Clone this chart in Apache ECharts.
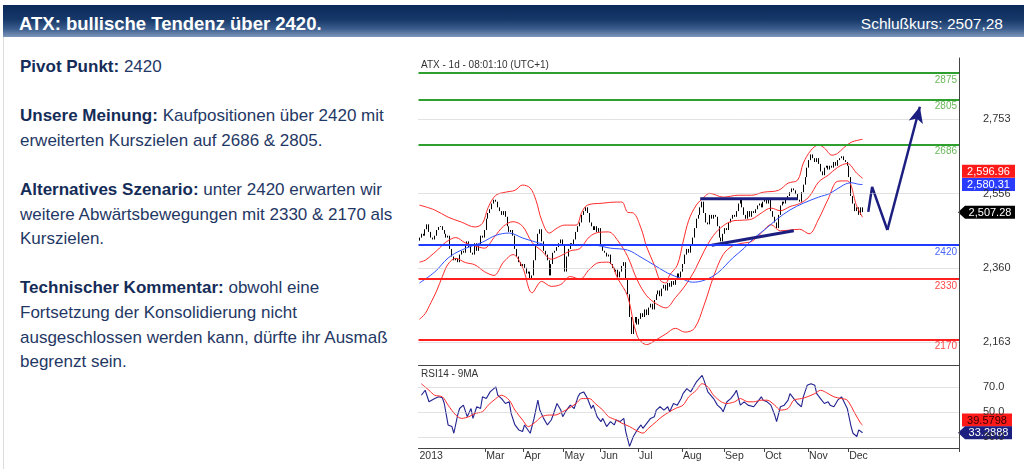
<!DOCTYPE html>
<html><head><meta charset="utf-8">
<script src="https://cdn.jsdelivr.net/npm/echarts@6/dist/echarts.min.js"></script>
<style>
html,body{margin:0;padding:0;background:#fff;}
body{width:1024px;height:469px;position:relative;overflow:hidden;font-family:"Liberation Sans",Arial,Helvetica,sans-serif;}
#hdr{position:absolute;left:3px;top:5px;width:1021px;height:32px;background:linear-gradient(to bottom,#0b2a5a 0%,#163869 45%,#3c5e8e 75%,#7d96ba 100%);}
#hdr .t{position:absolute;left:16px;top:2px;line-height:34px;font-size:18.5px;font-weight:bold;color:#fff;white-space:nowrap;}
#hdr .s{position:absolute;right:21px;top:2px;line-height:34px;font-size:15.5px;color:#fff;white-space:nowrap;}
#lb{position:absolute;left:3px;top:37px;width:1px;height:432px;background:#dcdcdc;}
#txt{position:absolute;left:20px;top:55px;font-size:17px;line-height:24.6px;color:#1f3865;white-space:nowrap;}
#txt b{color:#142c57;}
#chart{position:absolute;left:400px;top:40px;width:624px;height:429px;}
</style></head><body>
<div id="hdr"><div class="t">ATX: bullische Tendenz über 2420.</div><div class="s">Schlußkurs: 2507,28</div></div>
<div id="lb"></div>
<div id="txt"><b>Pivot Punkt:</b> 2420<br><br><b>Unsere Meinung:</b> Kaufpositionen über 2420 mit<br>erweiterten Kurszielen auf 2686 &amp; 2805.<br><br><b>Alternatives Szenario:</b> unter 2420 erwarten wir<br>weitere Abwärtsbewegungen mit 2330 &amp; 2170 als<br>Kurszielen.<br><br><b>Technischer Kommentar:</b> obwohl eine<br>Fortsetzung der Konsolidierung nicht<br>ausgeschlossen werden kann, dürfte ihr Ausmaß<br>begrenzt sein.</div>
<div id="chart"></div>
<script>
// ---------------- data ----------------
const firstDay = '2013-01-11';
const lastDay = '2014-02-26';
const holidays = ['2013-03-29','2013-04-01','2013-05-01','2013-05-09','2013-05-20','2013-05-30',
  '2013-12-24','2013-12-25','2013-12-26','2013-12-31','2014-01-01'];
const monthNames = ['Jan','Feb','Mar','Apr','May','Jun','Jul','Aug','Sep','Oct','Nov','Dec'];

const firstOpen = 2432;
const closesJan = [2440,2450,2445,2462,2475,2455,2440,2435,2445,2460,2468,2470,2460,2450,2440];
const closesFeb = [2445,2410,2390,2380,2385,2375,2395,2405,2400,2420,2430,2415,2400,2395,2425,2405,2420,2445,2440,2460];
const closesMar = [2490,2505,2515,2530,2540,2535,2520,2510,2500,2510,2495,2470,2455,2460,2445,2410,2390,2375,2365,2370];
const closesApr = [2360,2345,2350,2330,2340,2380,2420,2450,2462,2430,2405,2395,2380,2340,2370,2400,2405,2415,2425,2435,2420];
const closesMay = [2350,2390,2410,2425,2420,2435,2455,2470,2480,2500,2510,2520,2505,2480,2470,2460,2470,2455,2465];
const closesJun = [2420,2405,2400,2390,2395,2370,2360,2350,2355,2335,2350,2365,2375,2330,2290,2230,2185,2215,2230,2210];
const closesJul = [2225,2240,2230,2250,2235,2255,2265,2250,2275,2290,2300,2285,2305,2315,2300,2320,2310,2325,2315,2330,2345,2335,2350];
const closesAug = [2370,2395,2410,2400,2420,2440,2465,2490,2500,2520,2535,2505,2480,2475,2500,2490,2500,2495,2470,2440,2430,2450];
const closesSep = [2465,2460,2480,2490,2500,2495,2510,2530,2540,2520,2500,2490,2510,2495,2510,2505,2515,2525,2530,2520,2535];
const closesOct = [2540,2530,2540,2510,2495,2480,2465,2500,2525,2535,2530,2545,2550,2560,2570,2565,2555,2540,2535,2560,2580,2600,2625];
const closesNov = [2645,2660,2650,2640,2650,2635,2615,2605,2625,2630,2620,2630,2625,2640,2630,2645,2650,2655,2645,2640,2630];
const closesDec = [2600,2550,2530,2510,2520,2500,2520,2507.28];

// [day index, value]
const bbUpper = [[0,2526],[8,2513],[15,2494],[22,2481],[29,2468],[33,2478],[36,2520],[40,2552],[45,2560],[50,2565],[54,2579],[58,2571],[61,2539],[64,2486],[68,2452],[72,2465],[76,2473],[82,2473],[85,2507],[88,2526],[96,2531],[103,2534],[106,2534],[109,2507],[112,2505],[116,2465],[119,2415],[123,2367],[126,2327],[129,2320],[131,2341],[135,2367],[138,2428],[141,2486],[145,2526],[149,2547],[152,2557],[159,2547],[167,2552],[174,2552],[180,2560],[188,2565],[193,2584],[198,2592],[201,2637],[205,2671],[209,2685],[212,2677],[216,2658],[219,2663],[222,2677],[226,2692],[230,2698],[232,2700]];
const bbMiddle = [[0,2375],[3,2380],[6,2392],[9,2405],[12,2420],[15,2432],[19,2440],[24,2426],[29,2418],[34,2412],[39,2440],[44,2470],[49,2482],[54,2470],[59,2427],[64,2405],[69,2383],[74,2392],[79,2405],[84,2411],[89,2442],[94,2454],[99,2455],[104,2431],[109,2390],[114,2328],[119,2286],[124,2265],[129,2254],[134,2281],[139,2312],[144,2352],[149,2404],[154,2446],[159,2471],[164,2484],[169,2486],[174,2489],[179,2505],[184,2518],[189,2511],[194,2522],[199,2530],[204,2548],[209,2587],[214,2605],[219,2626],[224,2636],[229,2610],[232,2596.96]];
const bbLower = [[0,2224],[3,2239],[6,2268],[9,2299],[12,2337],[15,2370],[19,2385],[24,2374],[29,2368],[34,2350],[39,2340],[44,2375],[49,2395],[54,2361],[59,2294],[64,2324],[69,2311],[74,2316],[79,2337],[84,2330],[89,2356],[94,2374],[99,2375],[104,2330],[109,2285],[114,2180],[119,2157],[124,2170],[129,2185],[134,2200],[139,2190],[144,2200],[149,2261],[154,2337],[159,2395],[164,2418],[169,2425],[174,2430],[179,2452],[184,2474],[189,2458],[194,2460],[199,2462],[204,2450],[209,2489],[214,2542],[219,2589],[224,2590],[229,2523],[232,2494]];
const ma50 = [[0,2320],[8,2349],[15,2386],[22,2407],[33,2428],[40,2446],[47,2452],[54,2439],[61,2428],[68,2420],[81,2420],[91,2420],[100,2412],[109,2407],[116,2388],[123,2367],[130,2346],[137,2332],[143,2322],[149,2327],[156,2346],[164,2386],[170,2412],[175,2438],[182,2466],[187,2488],[194,2513],[201,2531],[209,2547],[215,2557],[222,2579],[226,2585],[230,2581],[232,2580.31]];

const rsi14 = [[1,63.6],[3,67.6],[5,58.3],[6,56.9],[8,60.9],[10,62.3],[12,61.5],[13,56.9],[15,39.6],[17,38.3],[18,32.9],[20,47.6],[21,52.9],[23,55.6],[25,46.3],[27,52.9],[28,44.9],[30,54.3],[32,52.9],[33,62.3],[35,60.9],[37,66.3],[40,70.3],[41,63.6],[43,60.9],[45,56.9],[47,58.3],[48,48.9],[50,39.6],[52,35.6],[54,34.3],[55,39.6],[58,32.9],[60,44.9],[62,59.6],[63,51.6],[65,44.9],[67,39.6],[69,43.6],[70,47.6],[72,56.9],[74,51.6],[75,46.3],[77,51.6],[79,55.6],[81,52.9],[83,62.3],[84,64.9],[86,66.3],[88,60.9],[90,52.9],[91,55.6],[93,46.3],[95,42.3],[96,44.9],[98,38.3],[100,42.3],[102,39.6],[103,43.6],[105,42.3],[107,44.9],[108,34.3],[110,22.3],[112,30.3],[114,35.6],[116,39.6],[117,36.9],[119,40.9],[121,44.9],[123,46.3],[124,51.6],[126,54.3],[128,51.6],[130,54.3],[131,50.3],[133,56.9],[135,55.6],[137,60.9],[138,64.9],[140,68.9],[142,66.3],[144,71.6],[145,74.3],[148,79.6],[149,75.6],[151,66.3],[152,66.3],[154,60.9],[156,55.6],[158,52.9],[159,50.3],[161,58.3],[163,60.9],[165,64.9],[166,67.6],[168,55.6],[170,58.3],[172,55.6],[173,56.9],[175,54.3],[177,58.3],[179,62.3],[180,59.6],[182,58.3],[184,55.6],[186,47.6],[187,42.3],[189,54.3],[191,55.6],[193,59.6],[194,64.9],[196,60.9],[198,56.9],[200,54.3],[201,62.3],[203,71.6],[205,72.9],[207,71.6],[208,64.9],[210,60.9],[212,56.9],[214,58.3],[215,55.6],[217,54.3],[219,59.6],[221,62.3],[222,60.9],[224,52.9],[226,38.3],[227,32.9],[229,30.3],[230,35.6],[232,33.2888]];
const rsiMA9 = [[1,72.9],[5,67.6],[8,63.6],[12,62.3],[15,55.6],[19,47.6],[22,44.9],[26,46.3],[29,48.9],[33,50.3],[36,55.6],[40,60.9],[43,63.6],[47,59.6],[50,51.6],[54,43.6],[57,38.3],[61,42.3],[64,46.3],[68,47.6],[71,47.6],[75,50.3],[78,52.9],[82,56.9],[85,60.9],[89,60.9],[92,56.9],[96,51.6],[99,46.3],[103,43.6],[106,41.0],[110,38.3],[113,35.6],[117,33.0],[120,37.0],[124,42.3],[127,46.3],[131,50.3],[134,52.9],[138,55.6],[141,62.3],[145,67.6],[148,72.9],[151,70.3],[154,63.6],[158,58.3],[161,56.9],[165,58.3],[168,60.9],[172,58.3],[175,58.3],[179,59.6],[182,59.6],[186,55.6],[189,51.6],[193,52.9],[196,59.6],[200,60.9],[203,62.3],[207,64.9],[210,67.6],[214,64.9],[217,62.3],[221,60.9],[224,59.6],[228,49.0],[231,41.0],[232,39.5798]];

const greenLevels = [2875, 2805, 2686];
const blueLevels = [2420];
const redLevels = [2330, 2170];
const priceTicks = [2163, 2360, 2556, 2753];
const rsiTicks = [30, 50, 70];

const resistanceLine = [[147,2543],[198,2543]];
const supportLine = [[153,2420],[196,2458]];
const projectionPath = [[235,2508],[237,2574],[245,2460],[262,2786]];

const lastClose = 2507.28, lastMiddle = 2596.96, lastMA = 2580.31;
const lastRsi = 33.2888, lastRsiMA = 39.5798;

// ---------------- build ----------------
function tradingDays(start, end, off) {
  const out = [];
  const d = new Date(start + 'T00:00:00Z'), e = new Date(end + 'T00:00:00Z');
  while (d <= e) {
    const w = d.getUTCDay(), s = d.toISOString().slice(0, 10);
    if (w !== 0 && w !== 6 && off.indexOf(s) < 0) out.push(s);
    d.setUTCDate(d.getUTCDate() + 1);
  }
  return out;
}
const days = tradingDays(firstDay, lastDay, holidays);
const closes = [].concat(closesJan, closesFeb, closesMar, closesApr, closesMay, closesJun,
  closesJul, closesAug, closesSep, closesOct, closesNov, closesDec);
const candles = closes.map((c, i) => {
  const o = i ? closes[i - 1] : firstOpen;
  return [o, c, Math.min(o, c), Math.max(o, c)];
});

function monthLabel(i) {
  if (i === 0) return days[0].slice(0, 4);
  const y = days[i].slice(0, 4), m = +days[i].slice(5, 7);
  const pm = +days[i - 1].slice(5, 7);
  if (m !== pm && y === '2013' && m >= 3) return monthNames[m - 1];
  return '';
}
const FONT = '"Liberation Sans", Arial, sans-serif';
const fmtPrice = v => Math.round(v).toString().replace(/\B(?=(\d{3})+(?!\d))/g, ',');

const chart = echarts.init(document.getElementById('chart'));
const option = {
  animation: false,
  textStyle: { fontFamily: FONT },
  title: [
    { text: 'ATX - 1d - 08:01:10 (UTC+1)', left: 21, top: 20, padding: 0,
      textStyle: { fontSize: 10, fontWeight: 'normal', color: '#333', fontFamily: FONT } },
    { text: 'RSI14 - 9MA', left: 21, top: 329, padding: 0,
      textStyle: { fontSize: 10, fontWeight: 'normal', color: '#333', fontFamily: FONT } }
  ],
  grid: [
    { left: 18.5, right: 65, top: 18, height: 307 },
    { left: 18.5, right: 65, top: 325, height: 83 }
  ],
  xAxis: [
    { type: 'category', gridIndex: 0, data: days, boundaryGap: true,
      axisLine: { show: true, lineStyle: { color: '#444', width: 1 } },
      axisTick: { show: false }, axisLabel: { show: false }, splitLine: { show: false } },
    { type: 'category', gridIndex: 1, data: days, boundaryGap: true,
      axisLine: { show: true, lineStyle: { color: '#444', width: 1 } },
      axisTick: { show: true, length: 4, lineStyle: { color: '#444' },
        interval: (i) => i > 0 && monthLabel(i) !== '' },
      axisLabel: { interval: (i) => monthLabel(i) !== '', formatter: (v, i) => monthLabel(i),
        align: 'left', margin: 3, fontSize: 10.5, color: '#333', fontFamily: FONT },
      splitLine: { show: false } }
  ],
  yAxis: [
    { type: 'value', gridIndex: 0, position: 'right', min: 2103, max: 2915,
      axisLine: { show: true, lineStyle: { color: '#444' } }, axisTick: { show: false },
      splitLine: { show: false },
      axisLabel: { customValues: priceTicks, formatter: v => fmtPrice(v), margin: 24,
        fontSize: 11, color: '#333', fontFamily: FONT } },
    { type: 'value', gridIndex: 1, position: 'right', min: 21, max: 88,
      axisLine: { show: true, lineStyle: { color: '#444' } }, axisTick: { show: false },
      splitLine: { show: false },
      axisLabel: { customValues: rsiTicks, formatter: v => v.toFixed(1), margin: 24,
        fontSize: 11, color: '#333', fontFamily: FONT } }
  ],
  series: [
    { name: 'ATX', type: 'candlestick', xAxisIndex: 0, yAxisIndex: 0, data: candles,
      barWidth: 1.3,
      itemStyle: { color: '#4a4a4a', color0: '#000', borderColor: '#000', borderColor0: '#000', borderWidth: 1 },
      markLine: {
        silent: true, symbol: 'none', animation: false,
        label: { show: false },
        data: [].concat(
          priceTicks.map(v => ({ yAxis: v, lineStyle: { type: 'dotted', color: '#c4c4c4', width: 1 }, label: { show: false } })),
          greenLevels.map(v => ({ yAxis: v, lineStyle: { type: 'solid', color: '#2e9e2e', width: 2 },
            label: { show: true, position: 'insideEndBottom', formatter: String(v), color: '#69b85a', fontSize: 10, distance: 2, fontFamily: FONT } })),
          blueLevels.map(v => ({ yAxis: v, lineStyle: { type: 'solid', color: '#1f3cff', width: 2 },
            label: { show: true, position: 'insideEndBottom', formatter: String(v), color: '#4a66ff', fontSize: 10, distance: 2, fontFamily: FONT } })),
          redLevels.map(v => ({ yAxis: v, lineStyle: { type: 'solid', color: '#ff1f1f', width: 2 },
            label: { show: true, position: 'insideEndBottom', formatter: String(v), color: '#ff4848', fontSize: 10, distance: 2, fontFamily: FONT } }))
        )
      }
    },
    { name: 'BB upper', type: 'line', data: bbUpper, smooth: 0.35, showSymbol: false, lineStyle: { color: '#ff2a2a', width: 1 }, z: 3 },
    { name: 'BB middle', type: 'line', data: bbMiddle, smooth: 0.35, showSymbol: false, lineStyle: { color: '#ff2a2a', width: 1 }, z: 3 },
    { name: 'BB lower', type: 'line', data: bbLower, smooth: 0.35, showSymbol: false, lineStyle: { color: '#ff2a2a', width: 1 }, z: 3 },
    { name: 'MA50', type: 'line', data: ma50, smooth: 0.35, showSymbol: false, lineStyle: { color: '#3050ff', width: 1 }, z: 3 },
    { name: 'Resistance', type: 'line', data: resistanceLine, showSymbol: false, lineStyle: { color: '#1c1f80', width: 3 }, z: 4 },
    { name: 'Support', type: 'line', data: supportLine, showSymbol: false, lineStyle: { color: '#1c1f80', width: 3 }, z: 4 },
    { name: 'Projection', type: 'line', data: projectionPath.slice(0, 3), showSymbol: false,
      lineStyle: { color: '#1c1f80', width: 2.5 }, z: 4,
      markLine: { silent: true, symbol: ['none', 'arrow'], symbolSize: [11, 16], animation: false,
        label: { show: false },
        lineStyle: { color: '#1c1f80', width: 2.5, type: 'solid' },
        data: [[{ coord: projectionPath[2] }, { coord: projectionPath[3] }]] } },
    { name: 'RSI14', type: 'line', xAxisIndex: 1, yAxisIndex: 1, data: rsi14, showSymbol: false,
      lineStyle: { color: '#22238f', width: 1.1 }, z: 3,
      markLine: { silent: true, symbol: 'none', animation: false, label: { show: false },
        data: rsiTicks.map(v => ({ yAxis: v, lineStyle: { type: 'dotted', color: '#c4c4c4', width: 1 } })) } },
    { name: 'RSI MA9', type: 'line', xAxisIndex: 1, yAxisIndex: 1, data: rsiMA9, smooth: 0.3, showSymbol: false,
      lineStyle: { color: '#ff2a2a', width: 1 }, z: 3 }
  ]
};
chart.setOption(option);

// value tags on the right axis, positioned from the data values
const gr = chart.getWidth() - 65;
function tag(axisIdx, value, text, bg, fg, dy, arrow, w) {
  const y = chart.convertToPixel({ yAxisIndex: axisIdx }, value) + dy;
  const h = 13, x0 = gr + 3, x1 = gr + 3 + w;
  const shape = arrow
    ? { type: 'polygon', shape: { points: [[gr - 1, y], [gr + 6, y - h / 2], [x1, y - h / 2], [x1, y + h / 2], [gr + 6, y + h / 2]] }, style: { fill: bg } }
    : { type: 'rect', shape: { x: x0, y: y - h / 2, width: w, height: h }, style: { fill: bg } };
  return { type: 'group', z: 100, children: [shape,
    { type: 'text', style: { text: text, x: arrow ? (gr + 6 + x1) / 2 : (x0 + x1) / 2, y: y + 0.5,
      fill: fg, font: '11px ' + FONT, align: 'center', verticalAlign: 'middle',
      textAlign: 'center', textVerticalAlign: 'middle' } }] };
}
chart.setOption({ graphic: [
  tag(0, lastMiddle, lastMiddle.toFixed(2).replace(/\B(?=(\d{3})+(?!\d))/, ','), '#ff1a1a', '#fff', -7, false, 53),
  tag(0, lastMA, lastMA.toFixed(2).replace(/\B(?=(\d{3})+(?!\d))/, ','), '#2a3cff', '#fff', 0, false, 53),
  tag(0, lastClose, lastClose.toFixed(2).replace(/\B(?=(\d{3})+(?!\d))/, ','), '#000', '#fff', 0, true, 53),
  tag(1, lastRsiMA, lastRsiMA.toFixed(4), '#ff1a1a', '#300', -5, false, 50),
  tag(1, lastRsi, lastRsi.toFixed(4), '#1c1f80', '#fff', 0, true, 50)
] });
</script>
</body></html>
